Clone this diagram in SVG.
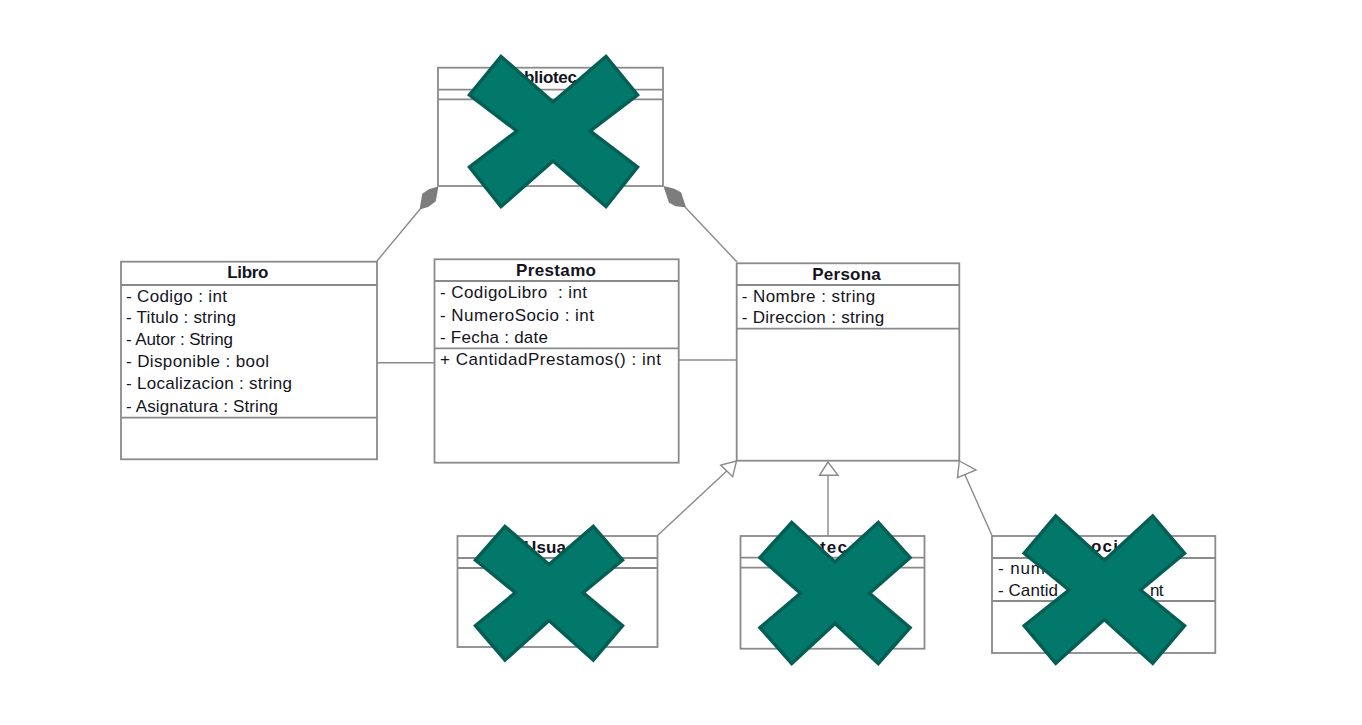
<svg xmlns="http://www.w3.org/2000/svg" width="1362" height="725" viewBox="0 0 1362 725">
<style>
.box{fill:#fff;stroke:#8a8a8a;stroke-width:1.8}
.sep{stroke:#8a8a8a;stroke-width:1.8;fill:none}
.con{stroke:#8a8a8a;stroke-width:1.4;fill:none}
.dia{fill:#7d7d7d;stroke:#7d7d7d;stroke-width:1.5;stroke-linejoin:round}
.tri{fill:#fff;stroke:#8a8a8a;stroke-width:1.4}
.t{font-family:"Liberation Sans",Arial,sans-serif;font-size:17px;fill:#14141e}
.h{font-weight:700}
.x{fill:#02786a;stroke:#035f54;stroke-width:3.5;stroke-linejoin:miter}
</style>
<rect width="1362" height="725" fill="#fff"/>
<g id="connectors">
<line class="con" x1="377" y1="261" x2="421" y2="208"/>
<polygon class="dia" points="437.5,187.5 429,190 423,194 420.5,208.5 428.5,206 435,201"/>
<line class="con" x1="685" y1="207" x2="737" y2="262"/>
<polygon class="dia" points="664.5,187 674,189.5 680.5,193 685,206.5 676,205.5 669.5,202"/>
<line class="con" x1="377" y1="362.7" x2="434.5" y2="362.7"/>
<line class="con" x1="679" y1="360" x2="737" y2="360"/>
<line class="con" x1="657.5" y1="535.5" x2="726.7" y2="471"/>
<polygon class="tri" points="736.5,461 720.7,465 732.7,476.7"/>
<line class="con" x1="828" y1="475" x2="828" y2="536"/>
<polygon class="tri" points="828,462 819.5,475.3 838,475.3"/>
<line class="con" x1="965" y1="475" x2="992" y2="535.5"/>
<polygon class="tri" points="959.3,461 976,470 957.5,477.7"/>
</g>
<g id="biblioteca">
<rect class="box" x="438" y="67.7" width="225" height="118.3"/>
<path class="sep" d="M438 89.7H663M438 99.3H663"/>
<text class="t h" x="524" y="83" textLength="53">bliotec</text>
</g>
<g id="libro">
<rect class="box" x="121" y="261.7" width="256" height="197.6"/>
<path class="sep" d="M121 285H377M121 417.7H377"/>
<text class="t h" x="227.3" y="278" textLength="41">Libro</text>
<text class="t" x="126" y="301.7" textLength="101">- Codigo : int</text>
<text class="t" x="126" y="323" textLength="110">- Titulo : string</text>
<text class="t" x="126" y="345" textLength="107">- Autor : String</text>
<text class="t" x="126" y="366.5" textLength="143">- Disponible : bool</text>
<text class="t" x="126" y="388.5" textLength="166">- Localizacion : string</text>
<text class="t" x="126" y="412" textLength="152">- Asignatura : String</text>
</g>
<g id="prestamo">
<rect class="box" x="434.5" y="259.3" width="244.2" height="203.4"/>
<path class="sep" d="M434.5 281H678.7M434.5 348.3H678.7"/>
<text class="t h" x="516" y="276" textLength="80">Prestamo</text>
<text class="t" x="440" y="298" textLength="147" xml:space="preserve">- CodigoLibro  : int</text>
<text class="t" x="440" y="321" textLength="154">- NumeroSocio : int</text>
<text class="t" x="440" y="343" textLength="108">- Fecha : date</text>
<text class="t" x="440" y="365" textLength="221">+ CantidadPrestamos() : int</text>
</g>
<g id="persona">
<rect class="box" x="736.7" y="263.3" width="222.6" height="197.4"/>
<path class="sep" d="M736.7 285H959.3M736.7 328.7H959.3"/>
<text class="t h" x="812.3" y="279.5" textLength="68.5">Persona</text>
<text class="t" x="741.7" y="301.7" textLength="133.5">- Nombre : string</text>
<text class="t" x="741.7" y="323.3" textLength="142.5">- Direccion : string</text>
</g>
<g id="usuario">
<rect class="box" x="457.5" y="536" width="200" height="111"/>
<path class="sep" d="M457.5 558H657.5M457.5 568H657.5"/>
<text class="t h" x="524" y="552.7" textLength="42">Usua</text>
</g>
<g id="nodo-central">
<rect class="box" x="740.5" y="536" width="184" height="112.7"/>
<path class="sep" d="M740.5 557.7H924.5M740.5 567.7H924.5"/>
<text class="t h" x="820" y="552.7" textLength="27">tec</text>
</g>
<g id="socio">
<rect class="box" x="992" y="536" width="223.3" height="117"/>
<path class="sep" d="M992 558H1215.3M992 601H1215.3"/>
<text class="t h" x="1091" y="552" textLength="27">oci</text>
<text class="t" x="998" y="574.3" textLength="47">- num</text>
<text class="t" x="998" y="595.7" textLength="60">- Cantid</text>
<text class="t" x="1150" y="595.7" textLength="13.5">nt</text>
</g>
<g id="crosses">
<polygon class="x" points="501,56.5 553,102 606,56.5 637.5,95 590,131 637.5,167 606,206.5 553,161 501,206.5 469.5,167 517,131 469.5,95"/>
<polygon class="x" points="505,526.5 549,564.5 593.3,526.5 622.5,560 583,592.7 622.5,625.7 593.3,660 549,620.5 505,660 475.5,625.7 515.5,592.7 475.5,560"/>
<polygon class="x" points="791.7,522.5 835,562 878.3,522.5 910,557.7 869.5,593.3 910,627.7 878.3,663.5 835,623.5 791.7,663.5 760,627.7 800.5,593.3 760,557.7"/>
<polygon class="x" points="1055.7,516 1104.3,560.5 1152.7,516 1184.5,553.3 1140.5,590 1184.5,625.7 1152.7,663.3 1104.3,619.5 1055.7,663.3 1024.2,625.7 1069,590 1024.2,553.3"/>
</g>
</svg>
